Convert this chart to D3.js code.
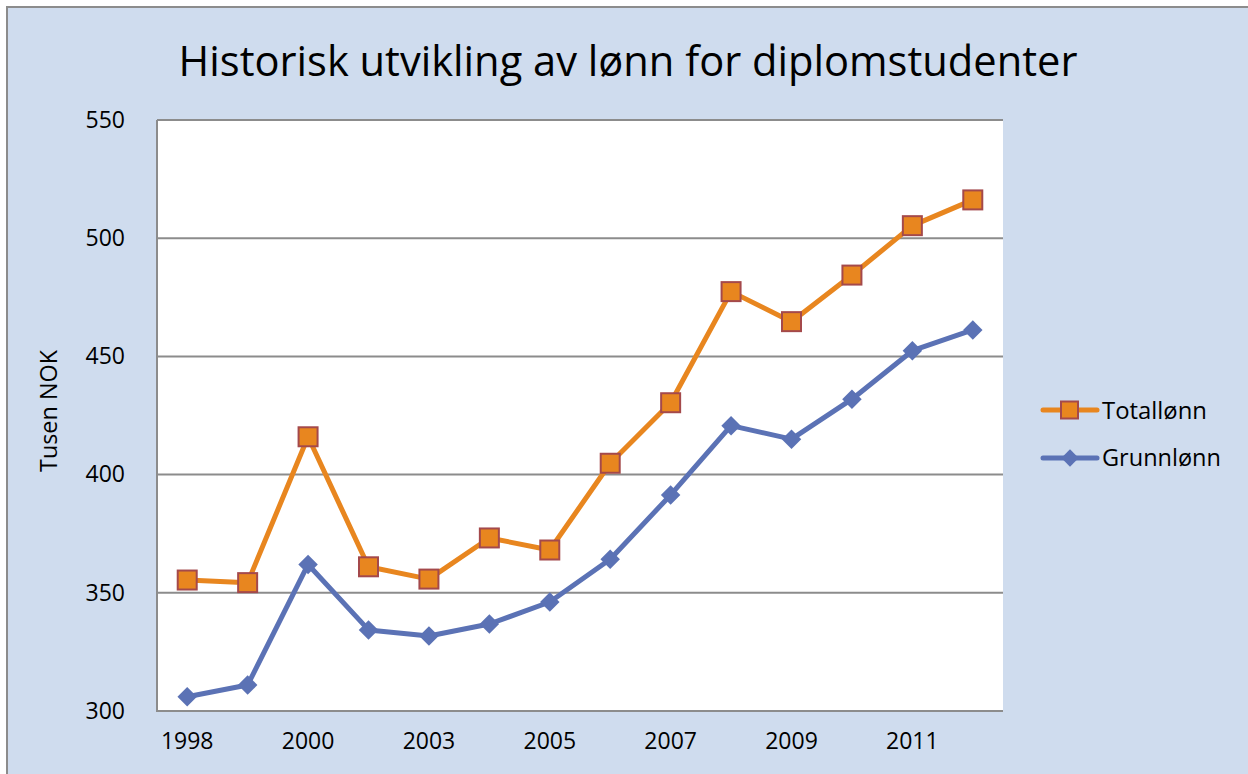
<!DOCTYPE html>
<html lang="no">
<head>
<meta charset="UTF-8">
<title>Historisk utvikling av lønn for diplomstudenter</title>
<script src="https://d3js.org/d3.v7.min.js"></script>
<style>
  body { margin: 0; background: #fff; }
  svg { display: block; font-family: "Open Sans", "Liberation Sans", sans-serif; }
  .tick text { font-size: 23px; fill: #000; font-family: "Open Sans", sans-serif; }
</style>
</head>
<body>
<svg width="1248" height="774"></svg>
<script>
const years = ["1998", "1999", "2000", "2002", "2003", "2004", "2005", "2006", "2007", "2008", "2009", "2010", "2011", "2012"];
const shownYears = ["1998", "2000", "2003", "2005", "2007", "2009", "2011"];
const totallonn = [355.4, 354.3, 416, 361, 355.8, 373.2, 368.1, 404.8, 430.4, 477.4, 464.7, 484.4, 505.3, 516.2];
const grunnlonn = [306, 311, 362, 334.3, 331.7, 336.8, 346.1, 364.2, 391.4, 420.7, 415, 431.9, 452.4, 461.2];
const yTicks = [300, 350, 400, 450, 500, 550];

const svg = d3.select("svg");
const plot = {left: 157, right: 1003, top: 120, bottom: 711};

// shrink/grow a text so it spans a given width
function fitWidth(sel, size, target) {
  sel.attr("font-size", size);
  const w = sel.node().getComputedTextLength();
  sel.attr("font-size", size * target / w);
}

// chart area
svg.append("rect")
  .attr("x", 7).attr("y", 7)
  .attr("width", 1260).attr("height", 790)
  .attr("fill", "#cfdcee")
  .attr("stroke", "#8c8c8c").attr("stroke-width", 2);

svg.append("rect")
  .attr("x", plot.left).attr("y", plot.top)
  .attr("width", plot.right - plot.left).attr("height", plot.bottom - plot.top)
  .attr("fill", "#fff");

const x = d3.scaleBand().domain(years).range([plot.left, plot.right]);
const y = d3.scaleLinear().domain([300, 550]).range([plot.bottom, plot.top]);
const cx = d => x(d) + x.bandwidth() / 2;

// gridlines
svg.append("g")
  .selectAll("line")
  .data(yTicks.slice(1))
  .join("line")
    .attr("x1", plot.left).attr("x2", plot.right)
    .attr("y1", d => y(d)).attr("y2", d => y(d))
    .attr("stroke", "#8c8c8c").attr("stroke-width", 2);

// axes
const yAxis = svg.append("g")
  .attr("transform", `translate(${plot.left},0)`)
  .call(d3.axisLeft(y).tickValues(yTicks).tickSize(0).tickPadding(32));
yAxis.select(".domain").remove();

const xAxis = svg.append("g")
  .attr("transform", `translate(0,${plot.bottom})`)
  .call(d3.axisBottom(x).tickValues(shownYears).tickSize(0).tickPadding(22));
xAxis.select(".domain").remove();

svg.append("line")
  .attr("x1", plot.left).attr("x2", plot.left)
  .attr("y1", plot.top).attr("y2", plot.bottom + 1)
  .attr("stroke", "#8c8c8c").attr("stroke-width", 2);
svg.append("line")
  .attr("x1", plot.left).attr("x2", plot.right)
  .attr("y1", plot.bottom).attr("y2", plot.bottom)
  .attr("stroke", "#8c8c8c").attr("stroke-width", 2);

// series
const orange = "#e8861f", blue = "#5b72b5", squareStroke = "#a4494b";
const line = d3.line().x((d, i) => cx(years[i])).y(d => y(d));

svg.append("path").datum(grunnlonn)
  .attr("d", line).attr("fill", "none")
  .attr("stroke", blue).attr("stroke-width", 5).attr("stroke-linejoin", "round");
svg.append("g").selectAll("path")
  .data(grunnlonn)
  .join("path")
    .attr("d", d3.symbol(d3.symbolSquare, 190))
    .attr("transform", (d, i) => `translate(${cx(years[i])},${y(d)}) rotate(45)`)
    .attr("fill", blue);

svg.append("path").datum(totallonn)
  .attr("d", line).attr("fill", "none")
  .attr("stroke", orange).attr("stroke-width", 5).attr("stroke-linejoin", "round");
svg.append("g").selectAll("rect")
  .data(totallonn)
  .join("rect")
    .attr("x", (d, i) => cx(years[i]) - 9.5)
    .attr("y", d => y(d) - 9.5)
    .attr("width", 19).attr("height", 19)
    .attr("fill", orange)
    .attr("stroke", squareStroke).attr("stroke-width", 2);

// title
const title = svg.append("text")
  .attr("x", 628).attr("y", 76)
  .attr("text-anchor", "middle")
  .attr("fill", "#000")
  .text("Historisk utvikling av lønn for diplomstudenter");
fitWidth(title, 40, 899);

// y axis label
const yLabel = svg.append("text")
  .attr("transform", "translate(57,411) rotate(-90)")
  .attr("text-anchor", "middle")
  .text("Tusen NOK");
fitWidth(yLabel, 20, 122);

// legend
const legend = [
  {name: "Totallønn", color: orange, y: 410, square: true, w: 105},
  {name: "Grunnlønn", color: blue, y: 458, square: false, w: 119}
];
const lg = svg.append("g").selectAll("g").data(legend).join("g")
  .attr("transform", d => `translate(0,${d.y})`);
lg.append("line")
  .attr("x1", 1043).attr("x2", 1097)
  .attr("stroke", d => d.color).attr("stroke-width", 5).attr("stroke-linecap", "round");
lg.filter(d => d.square).append("rect")
  .attr("x", 1061).attr("y", -8.5).attr("width", 17).attr("height", 17)
  .attr("fill", orange).attr("stroke", squareStroke).attr("stroke-width", 2);
lg.filter(d => !d.square).append("path")
  .attr("d", d3.symbol(d3.symbolSquare, 150))
  .attr("transform", "translate(1070,0) rotate(45)")
  .attr("fill", blue);
lg.append("text")
  .attr("x", 1102).attr("dy", "0.36em")
  .text(d => d.name)
  .each(function(d) { fitWidth(d3.select(this), 20, d.w); });
</script>
</body>
</html>
